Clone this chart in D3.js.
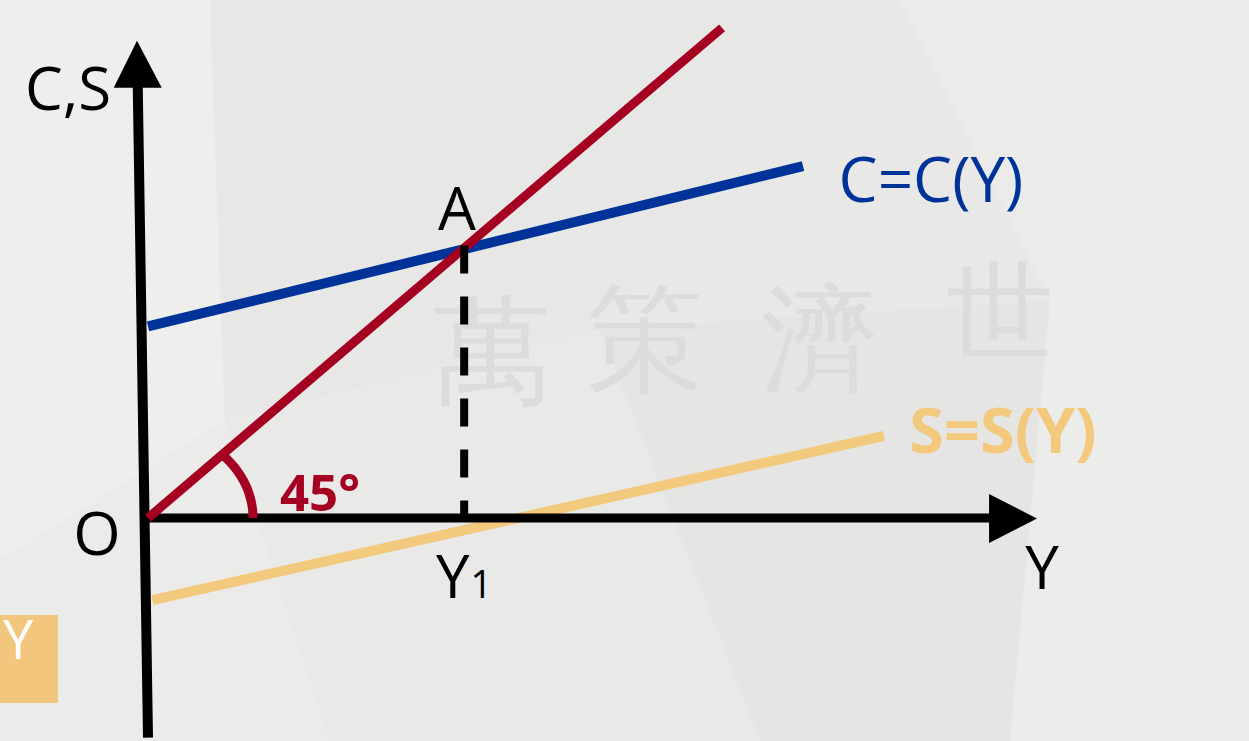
<!DOCTYPE html>
<html>
<head>
<meta charset="utf-8">
<script src="https://cdn.jsdelivr.net/npm/d3@7"></script>
<style>
  html, body { margin: 0; padding: 0; background: #e9e9e8; overflow: hidden; }
  svg { display: block; }
  text { font-family: "Open Sans", "Noto Sans", sans-serif; }
</style>
</head>
<body>
<svg id="chart" width="1249" height="741"></svg>
<script>
// ---- data (model units: income Y on x, C/S on y) ----
const line45Points   = [{y: 0, v: 0}, {y: 6.45, v: 6.45}];
const consumptionPts = [{y: 0, v: 2.52}, {y: 7.36, v: 4.63}];
const savingPts      = [{y: 0.05, v: -1.08}, {y: 8.27, v: 1.08}];
const equilibriumY1  = 3.53;
const angleDegrees   = [0, 5, 10, 15, 20, 25, 30, 35, 40, 45];
const arcRadius      = 1.18;
const axisXRange     = [-0.02, 10];
const axisYRange     = [-2.89, 6.28];
const curveLabels    = ["C=C(Y)", "S=S(Y)"];
const axisLabels     = ["C,S", "Y", "O"];
const pointLabels    = ["A", "Y", "1", "45°"];
const watermarkChars = ["萬", "策", "濟", "世"];

const W = 1249, H = 741;
const svg = d3.select("#chart");

// scales
const x = d3.scaleLinear().domain([0, 10]).range([148, 1038]);
const y = d3.scaleLinear().domain([0, 6]).range([518, 62]);

// ---- background facets ----
const bg = svg.append("g");
bg.append("rect").attr("width", W).attr("height", H).attr("fill", "#e8e8e7");
const facets = [
  {pts: [[0,0],[210,0],[225,420],[0,560]], fill: "#eeeeed"},
  {pts: [[0,560],[225,420],[330,741],[0,741]], fill: "#ebebea"},
  {pts: [[210,0],[900,0],[600,330],[225,420]], fill: "#e7e7e6"},
  {pts: [[900,0],[1249,0],[1249,160],[1050,300]], fill: "#ebebea"},
  {pts: [[1050,300],[1249,160],[1249,741],[1010,741]], fill: "#ececeb"},
  {pts: [[600,330],[1050,300],[1010,741],[760,741]], fill: "#e5e5e4"},
  {pts: [[225,420],[600,330],[760,741],[330,741]], fill: "#e9e9e8"}
];
bg.selectAll("polygon").data(facets).join("polygon")
  .attr("points", d => d.pts.map(p => p.join(",")).join(" "))
  .attr("fill", d => d.fill);

// faint calligraphy-style watermark, one glyph at a time
const wmLayout = [
  {cx: 492, base: 392, size: 118},
  {cx: 645, base: 380, size: 118},
  {cx: 820, base: 380, size: 118},
  {cx: 1000, base: 350, size: 108}
];
bg.selectAll("text.wm").data(watermarkChars).join("text")
  .attr("class", "wm")
  .attr("x", (d, i) => wmLayout[i].cx)
  .attr("y", (d, i) => wmLayout[i].base)
  .attr("text-anchor", "middle")
  .attr("font-family", "'Noto Sans CJK TC', 'Noto Sans CJK SC', sans-serif")
  .attr("font-size", (d, i) => wmLayout[i].size)
  .attr("font-weight", 300)
  .attr("fill", "#dcdcdb")
  .text(d => d);

// ---- orange side box ----
svg.append("rect").attr("x", 0).attr("y", 615).attr("width", 58).attr("height", 88).attr("fill", "#f2c77d");
svg.append("text").attr("x", 18).attr("y", 659).attr("text-anchor", "middle")
  .attr("font-size", 54).attr("fill", "#ffffff").text(axisLabels[1]);

const lineGen = d3.line().x(d => x(d.y)).y(d => y(d.v));

// ---- saving line ----
svg.append("path").datum(savingPts).attr("d", lineGen)
  .attr("fill", "none").attr("stroke", "#f3c97e").attr("stroke-width", 10);

// ---- axes ----
const axisColor = "#000000";
// x axis
const xBase = x(9.45), xTip = x(axisXRange[1]) - 1;
svg.append("line").attr("x1", x(axisXRange[0])).attr("y1", y(0)).attr("x2", xBase + 2).attr("y2", y(0))
  .attr("stroke", axisColor).attr("stroke-width", 9);
svg.append("polygon")
  .attr("points", [[xBase, y(0) - 24], [xTip, y(0) + 0.5], [xBase, y(0) + 25]].map(p => p.join(",")).join(" "))
  .attr("fill", axisColor);
// y axis (slightly tilted as in the original drawing)
const yBottom = y(axisYRange[0]), yBase = y(5.66), yTipPx = y(axisYRange[1]);
const tilt = px => 148 - (yBottom - px) * (11 / (yBottom - yTipPx));
svg.append("line").attr("x1", tilt(yBottom) ).attr("y1", yBottom).attr("x2", tilt(yBase)).attr("y2", yBase - 2)
  .attr("stroke", axisColor).attr("stroke-width", 10);
svg.append("polygon")
  .attr("points", [[tilt(yBase) - 24, yBase], [tilt(yTipPx), yTipPx], [tilt(yBase) + 24, yBase]].map(p => p.join(",")).join(" "))
  .attr("fill", axisColor);

// ---- consumption line ----
svg.append("path").datum(consumptionPts).attr("d", lineGen)
  .attr("fill", "none").attr("stroke", "#003399").attr("stroke-width", 10);

// ---- 45 degree line ----
svg.append("path").datum(line45Points).attr("d", lineGen)
  .attr("fill", "none").attr("stroke", "#a50021").attr("stroke-width", 9);

// angle arc
const arcPts = angleDegrees.map(a => ({y: arcRadius * Math.cos(a * Math.PI / 180), v: arcRadius * Math.sin(a * Math.PI / 180)}));
svg.append("path").datum(arcPts).attr("d", lineGen.curve(d3.curveCatmullRom))
  .attr("fill", "none").attr("stroke", "#a50021").attr("stroke-width", 9);

// ---- dashed drop line at Y1 ----
const c1 = consumptionPts[0].v + (consumptionPts[1].v - consumptionPts[0].v) / (consumptionPts[1].y - consumptionPts[0].y) * equilibriumY1;
svg.append("line")
  .attr("x1", x(equilibriumY1) + 2).attr("y1", y(c1) - 4)
  .attr("x2", x(equilibriumY1) + 2).attr("y2", y(0))
  .attr("stroke", "#000").attr("stroke-width", 8).attr("stroke-dasharray", "28,23");

// ---- labels ----
svg.append("text").attr("x", 68).attr("y", 110).attr("text-anchor", "middle")
  .attr("font-size", 60).attr("fill", "#000").text(axisLabels[0]);
svg.append("text").attr("x", 97).attr("y", 555).attr("text-anchor", "middle")
  .attr("font-size", 61).attr("fill", "#000").text(axisLabels[2]);
svg.append("text").attr("x", 1042).attr("y", 589).attr("text-anchor", "middle")
  .attr("font-size", 60).attr("fill", "#000").text(axisLabels[1]);
svg.append("text").attr("x", 457).attr("y", 230).attr("text-anchor", "middle")
  .attr("font-size", 60).attr("fill", "#000").text(pointLabels[0]);
const y1Label = svg.append("text").attr("x", 436).attr("y", 598).attr("fill", "#000");
y1Label.append("tspan").attr("font-size", 60).text(pointLabels[1]);
y1Label.append("tspan").attr("font-size", 38).attr("dx", 1).text(pointLabels[2]);
svg.append("text").attr("x", 320).attr("y", 511).attr("text-anchor", "middle")
  .attr("font-size", 51).attr("font-weight", 700).attr("fill", "#a50021").text(pointLabels[3]);

svg.append("text").attr("x", 931).attr("y", 202).attr("text-anchor", "middle")
  .attr("font-size", 62).attr("fill", "#003399").text(curveLabels[0]);
svg.append("text").attr("x", 1003).attr("y", 453).attr("text-anchor", "middle")
  .attr("font-size", 63).attr("font-weight", 700).attr("fill", "#f3c97e").text(curveLabels[1]);
</script>
</body>
</html>
